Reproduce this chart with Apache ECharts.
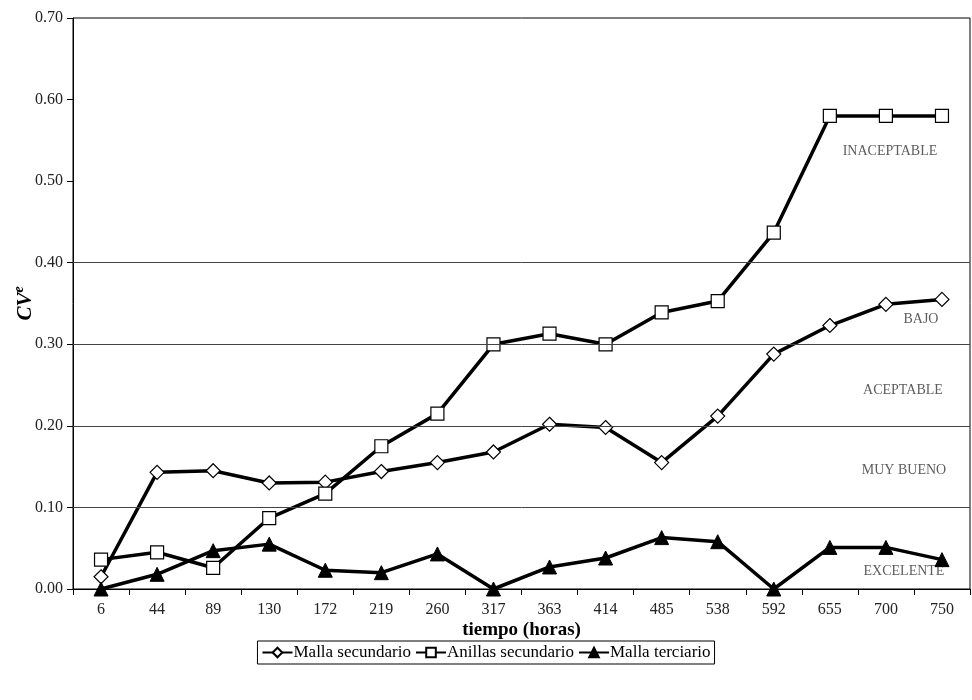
<!DOCTYPE html>
<html>
<head>
<meta charset="utf-8">
<script src="https://cdn.jsdelivr.net/npm/echarts@6/dist/echarts.min.js"></script>
<style>
html,body{margin:0;padding:0;background:#fff;}
#c{width:972px;height:700px;}
</style>
</head>
<body>
<div id="c"></div>
<script>
const categories = ['6','44','89','130','172','219','260','317','363','414','485','538','592','655','700','750'];
const mallaSecundario = [0.015,0.143,0.145,0.130,0.131,0.144,0.155,0.168,0.202,0.198,0.155,0.212,0.288,0.323,0.349,0.355];
const anillasSecundario = [0.036,0.045,0.026,0.087,0.117,0.175,0.215,0.300,0.313,0.300,0.339,0.353,0.437,0.580,0.580,0.580];
const mallaTerciario = [0.000,0.018,0.047,0.055,0.023,0.020,0.043,0.000,0.027,0.038,0.063,0.058,0.000,0.051,0.051,0.036];
const bandLimits = [0.1,0.2,0.3,0.4];
const bandNames = ['INACEPTABLE','BAJO','ACEPTABLE','MUY BUENO','EXCELENTE'];
const bandLabelValues = [0.537,0.331,0.243,0.146,0.022];
const bandLabelShift = [-52,-21,-39,-38,-38];

const FONT = '"Liberation Serif", "DejaVu Serif", serif';
const chart = echarts.init(document.getElementById('c'));

const lineBase = {
  type: 'line',
  color: '#000',
  lineStyle: {color: '#000', width: 3.5},
  itemStyle: {color: '#fff', borderColor: '#000', borderWidth: 1.2},
  emphasis: {disabled: true},
  animation: false,
  z: 3
};

chart.setOption({
  animation: false,
  backgroundColor: '#fff',
  textStyle: {fontFamily: FONT},
  grid: {left: 73, right: 2, top: 18, bottom: 111, show: true, borderColor: '#000', borderWidth: 1,
         outerBoundsMode: 'none', containLabel: false},
  legend: {
    data: ['Malla secundario','Anillas secundario','Malla terciario'],
    top: 641,
    left: 'center',
    itemGap: 4,
    itemWidth: 30,
    itemHeight: 12,
    padding: [3, 4, 3, 4],
    borderColor: '#000',
    borderWidth: 1,
    textStyle: {fontFamily: FONT, fontSize: 17, color: '#000', padding: [0,0,0,-4]}
  },
  xAxis: {
    type: 'category',
    data: categories,
    boundaryGap: true,
    name: 'tiempo (horas)',
    nameLocation: 'middle',
    nameGap: 32,
    nameMoveOverlap: false,
    nameTextStyle: {fontFamily: FONT, fontSize: 19, fontWeight: 'bold', color: '#000'},
    axisLine: {lineStyle: {color: '#000', width: 1}},
    axisTick: {show: true, length: 6, lineStyle: {color: '#000'}, alignWithLabel: false},
    axisLabel: {fontFamily: FONT, fontSize: 16, color: '#222', margin: 13}
  },
  yAxis: {
    type: 'value',
    min: 0,
    max: 0.7,
    interval: 0.1,
    name: '{a|CV}{b|e}',
    nameLocation: 'middle',
    nameGap: 37,
    nameMoveOverlap: false,
    nameRotate: 90,
    nameTextStyle: {
      rich: {
        a: {fontFamily: FONT, fontSize: 21, fontWeight: 'bold', fontStyle: 'italic', color: '#000', verticalAlign: 'bottom', lineHeight: 24},
        b: {fontFamily: FONT, fontSize: 14, fontWeight: 'bold', fontStyle: 'italic', color: '#000', verticalAlign: 'top', lineHeight: 24}
      }
    },
    splitLine: {show: false},
    axisLine: {show: true, lineStyle: {color: '#000', width: 1}},
    axisTick: {show: true, length: 6, lineStyle: {color: '#000'}},
    axisLabel: {fontFamily: FONT, fontSize: 16, color: '#222', margin: 10, formatter: v => v.toFixed(2)}
  },
  series: [
    Object.assign({}, lineBase, {
      name: 'Malla secundario',
      data: mallaSecundario,
      symbol: 'diamond',
      symbolSize: 14,
      markLine: {
        silent: true,
        symbol: ['none','none'],
        label: {show: false},
        lineStyle: {color: '#444', type: 'solid', width: 1},
        data: bandLimits.map(v => ({yAxis: v}))
      }
    }),
    Object.assign({}, lineBase, {
      name: 'Anillas secundario',
      data: anillasSecundario,
      symbol: 'rect',
      symbolSize: 13
    }),
    Object.assign({}, lineBase, {
      name: 'Malla terciario',
      data: mallaTerciario,
      symbol: 'triangle',
      symbolSize: 14,
      itemStyle: {color: '#000', borderColor: '#000', borderWidth: 1}
    }),
    {
      type: 'scatter',
      name: 'bandas',
      silent: true,
      symbolSize: 0,
      animation: false,
      z: 2,
      data: bandNames.map((n, i) => ({name: n, value: [categories.length - 1, bandLabelValues[i]],
        label: {offset: [bandLabelShift[i], 0]}})),
      label: {
        show: true,
        position: 'inside',
        formatter: p => p.name,
        fontFamily: FONT,
        fontSize: 14,
        color: '#333'
      }
    }
  ]
});
</script>
</body>
</html>
